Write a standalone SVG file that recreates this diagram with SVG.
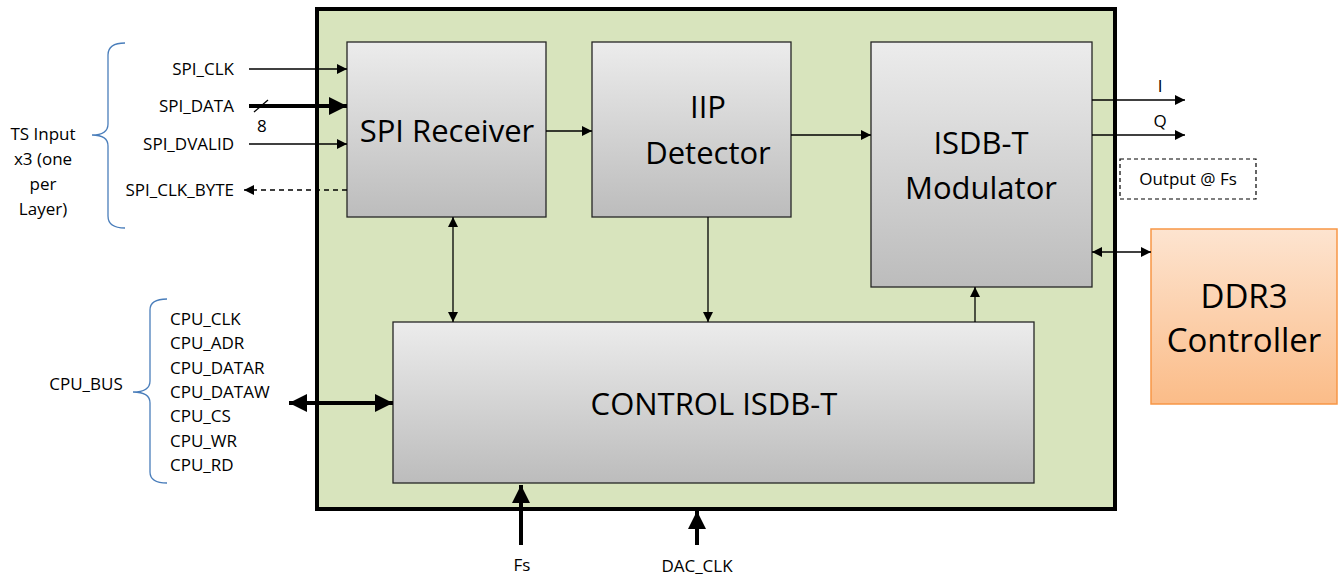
<svg xmlns="http://www.w3.org/2000/svg" width="1343" height="576" viewBox="0 0 1343 576">
<style>
text{font-family:"Open Sans","Liberation Sans",sans-serif;fill:#000}
.s{font-size:17px}
.b{font-size:31px}
.blk{stroke:#262626;stroke-width:1.3}
.ln{stroke:#000;stroke-width:1.3;fill:none}
.th{stroke:#000;stroke-width:4;fill:none}
.br{stroke:#4a7ebb;stroke-width:1.3;fill:none}
</style>
<defs>
<linearGradient id="g" x1="0" y1="0" x2="0" y2="1"><stop offset="0" stop-color="#ececec"/><stop offset="1" stop-color="#bcbcbc"/></linearGradient>
<linearGradient id="o" x1="0" y1="0" x2="0" y2="1"><stop offset="0" stop-color="#fde4d0"/><stop offset="1" stop-color="#fbbc88"/></linearGradient>
<marker id="a" viewBox="0 0 10 10" refX="10" refY="5" markerWidth="10" markerHeight="10" markerUnits="userSpaceOnUse" orient="auto-start-reverse"><path d="M0,0L10,5L0,10z" fill="#000"/></marker>
<marker id="A" viewBox="0 0 10 10" refX="10" refY="5" markerWidth="4.5" markerHeight="4.5" orient="auto-start-reverse"><path d="M0,0L10,5L0,10z" fill="#000"/></marker>
</defs>
<g id="fpga"><rect x="317" y="9" width="798" height="500" fill="#d8e4bd" stroke="#000" stroke-width="4"/></g>
<g id="spi"><rect class="blk" x="347" y="42" width="199" height="175" fill="url(#g)"/><text class="b" x="447" y="142" text-anchor="middle">SPI Receiver</text></g>
<g id="iip"><rect class="blk" x="592" y="42" width="199" height="175" fill="url(#g)"/><text class="b" x="708" y="118" text-anchor="middle">IIP</text><text class="b" x="708" y="164" text-anchor="middle">Detector</text></g>
<g id="mod"><rect class="blk" x="871" y="42" width="221" height="245" fill="url(#g)"/><text class="b" x="981" y="154" text-anchor="middle">ISDB-T</text><text class="b" x="981" y="199" text-anchor="middle">Modulator</text></g>
<g id="ctrl"><rect class="blk" x="393" y="322" width="641" height="161" fill="url(#g)"/><text class="b" x="714" y="415" text-anchor="middle">CONTROL ISDB-T</text></g>
<g id="ddr"><rect x="1151" y="229" width="186" height="175" fill="url(#o)" stroke="#f79646" stroke-width="1.5"/><text x="1244" y="308" text-anchor="middle" style="font-size:33px">DDR3</text><text x="1244" y="352" text-anchor="middle" style="font-size:33px">Controller</text></g>
<g id="outfs"><rect x="1120" y="159" width="136" height="40" fill="none" stroke="#000" stroke-width="1.2" stroke-dasharray="4,3"/><text class="s" x="1188" y="185" text-anchor="middle">Output @ Fs</text></g>
<g id="labels">
<text class="s" x="234" y="75" text-anchor="end">SPI_CLK</text>
<text class="s" x="234" y="112" text-anchor="end">SPI_DATA</text>
<text class="s" x="257" y="132">8</text>
<text class="s" x="234" y="150" text-anchor="end">SPI_DVALID</text>
<text class="s" x="234" y="196" text-anchor="end">SPI_CLK_BYTE</text>
<text class="s" x="43" y="140" text-anchor="middle">TS Input</text>
<text class="s" x="43" y="165" text-anchor="middle">x3 (one</text>
<text class="s" x="43" y="190" text-anchor="middle">per</text>
<text class="s" x="43" y="215" text-anchor="middle">Layer)</text>
<text class="s" x="86" y="390" text-anchor="middle">CPU_BUS</text>
<text class="s" x="170" y="325">CPU_CLK</text>
<text class="s" x="170" y="349">CPU_ADR</text>
<text class="s" x="170" y="374">CPU_DATAR</text>
<text class="s" x="170" y="398">CPU_DATAW</text>
<text class="s" x="170" y="422">CPU_CS</text>
<text class="s" x="170" y="447">CPU_WR</text>
<text class="s" x="170" y="471">CPU_RD</text>
<text class="s" x="1160" y="92" text-anchor="middle">I</text>
<text class="s" x="1160" y="127" text-anchor="middle">Q</text>
<text class="s" x="522" y="571" text-anchor="middle">Fs</text>
<text class="s" x="697" y="572" text-anchor="middle">DAC_CLK</text>
<path class="br" d="M125,43 Q108,43 108,55 L108,124 Q108,135 92,135 Q108,135 108,146 L108,216 Q108,228 125,228"/>
<path class="br" d="M167,299 Q150,299 150,310 L150,381 Q150,392 133,392 Q150,392 150,403 L150,472 Q150,483 167,483"/>
</g>
<g id="connectors">
<line class="ln" x1="249" y1="69" x2="347" y2="69" marker-end="url(#a)"/>
<line class="th" x1="249" y1="106" x2="347" y2="106" marker-end="url(#A)"/>
<line class="ln" x1="254" y1="112" x2="268" y2="100"/>
<line class="ln" x1="249" y1="144" x2="347" y2="144" marker-end="url(#a)"/>
<line class="ln" x1="347" y1="190" x2="244" y2="190" stroke-dasharray="5,4" marker-end="url(#a)"/>
<line class="ln" x1="546" y1="131" x2="592" y2="131" marker-end="url(#a)"/>
<line class="ln" x1="791" y1="135" x2="871" y2="135" marker-end="url(#a)"/>
<line class="ln" x1="453" y1="217" x2="453" y2="322" marker-start="url(#a)" marker-end="url(#a)"/>
<line class="ln" x1="708" y1="217" x2="708" y2="322" marker-end="url(#a)"/>
<line class="ln" x1="975" y1="322" x2="975" y2="287" marker-end="url(#a)"/>
<line class="ln" x1="1092" y1="100" x2="1185" y2="100" marker-end="url(#a)"/>
<line class="ln" x1="1092" y1="135" x2="1185" y2="135" marker-end="url(#a)"/>
<line class="ln" x1="1092" y1="252" x2="1151" y2="252" marker-start="url(#a)" marker-end="url(#a)"/>
<line class="th" x1="289" y1="403" x2="393" y2="403" marker-start="url(#A)" marker-end="url(#A)"/>
<line class="th" x1="521" y1="545" x2="521" y2="485" marker-end="url(#A)"/>
<line class="th" x1="697" y1="545" x2="697" y2="511" marker-end="url(#A)"/>
</g>
</svg>
